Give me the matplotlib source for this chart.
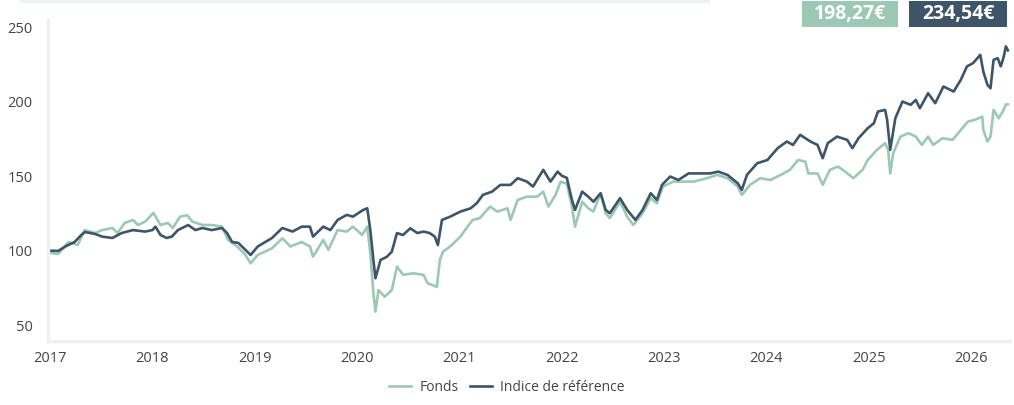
import matplotlib
matplotlib.use("Agg")
import matplotlib.pyplot as plt
from matplotlib.patches import Rectangle

plt.rcParams['font.family'] = ['Open Sans', 'DejaVu Sans']

# Indice de référence (decimal year, value)
indice_t = [2017.00, 2017.08, 2017.15, 2017.24, 2017.31, 2017.34, 2017.44, 2017.51, 2017.61, 2017.70,
            2017.81, 2017.93, 2018.00, 2018.03, 2018.08, 2018.14, 2018.19, 2018.25, 2018.35, 2018.42,
            2018.49, 2018.58, 2018.68, 2018.73, 2018.78, 2018.84, 2018.91, 2018.96, 2019.03, 2019.17,
            2019.27, 2019.37, 2019.46, 2019.54, 2019.57, 2019.67, 2019.74, 2019.81, 2019.90, 2019.96,
            2020.06, 2020.10, 2020.13, 2020.16, 2020.18, 2020.23, 2020.29, 2020.34, 2020.39, 2020.45,
            2020.52, 2020.59, 2020.65, 2020.71, 2020.76, 2020.79, 2020.83, 2020.91, 2021.01, 2021.11,
            2021.17, 2021.23, 2021.32, 2021.40, 2021.50, 2021.57, 2021.66, 2021.72, 2021.82, 2021.89,
            2021.96, 2022.00, 2022.05, 2022.10, 2022.13, 2022.20, 2022.26, 2022.31, 2022.38, 2022.43,
            2022.47, 2022.57, 2022.64, 2022.72, 2022.79, 2022.87, 2022.93, 2022.98, 2023.06, 2023.14,
            2023.24, 2023.35, 2023.45, 2023.53, 2023.62, 2023.72, 2023.76, 2023.81, 2023.91, 2024.01,
            2024.11, 2024.20, 2024.26, 2024.33, 2024.43, 2024.50, 2024.55, 2024.60, 2024.69, 2024.79,
            2024.84, 2024.90, 2024.99, 2025.05, 2025.09, 2025.16, 2025.18, 2025.21, 2025.26, 2025.33,
            2025.41, 2025.46, 2025.50, 2025.58, 2025.65, 2025.73, 2025.83, 2025.90, 2025.96, 2026.02,
            2026.09, 2026.12, 2026.16, 2026.19, 2026.22, 2026.26, 2026.29, 2026.32, 2026.34, 2026.36]
indice_v = [100.2, 100.0, 103.0, 106.0, 111.0, 112.7, 111.4, 109.6, 108.7, 112.0,
            114.0, 113.0, 114.0, 116.3, 110.7, 108.7, 109.6, 114.0, 117.4, 114.0,
            115.4, 114.0, 115.4, 112.0, 106.0, 105.4, 100.7, 97.3, 103.0, 108.7,
            115.4, 113.0, 116.3, 116.3, 109.6, 116.3, 114.0, 120.8, 124.2, 123.0,
            127.5, 128.6, 114.0, 94.0, 81.7, 94.0, 96.0, 99.5, 112.0, 110.7,
            115.2, 112.0, 113.0, 112.0, 109.6, 104.0, 120.8, 123.0, 126.4, 128.6,
            132.0, 137.6, 139.8, 144.3, 144.3, 148.8, 146.5, 143.2, 154.4, 146.5,
            153.2, 150.5, 149.0, 134.2, 127.5, 139.8, 136.4, 133.0, 138.7, 127.5,
            125.3, 135.4, 127.5, 120.8, 127.5, 138.7, 134.2, 144.3, 149.9, 147.6,
            152.0, 152.0, 152.0, 153.2, 151.0, 145.4, 140.9, 151.0, 158.8, 161.0,
            168.9, 173.4, 171.1, 177.9, 173.4, 171.1, 162.2, 172.3, 176.7, 174.5,
            168.9, 175.6, 182.3, 185.6, 193.5, 194.6, 187.9, 167.8, 189.0, 200.2,
            198.0, 201.3, 195.7, 205.8, 199.1, 210.3, 206.9, 214.8, 223.8, 226.0,
            231.5, 220.3, 211.4, 209.1, 228.2, 229.3, 223.8, 230.4, 237.2, 234.54]

# Fonds (decimal year, value)
fonds_t = [2017.00, 2017.08, 2017.18, 2017.27, 2017.34, 2017.44, 2017.51, 2017.61, 2017.66, 2017.73,
           2017.81, 2017.86, 2017.93, 2018.01, 2018.08, 2018.15, 2018.20, 2018.27, 2018.34, 2018.39,
           2018.49, 2018.58, 2018.68, 2018.74, 2018.83, 2018.91, 2018.96, 2019.03, 2019.17, 2019.27,
           2019.35, 2019.46, 2019.54, 2019.57, 2019.67, 2019.72, 2019.81, 2019.90, 2019.96, 2020.05,
           2020.10, 2020.13, 2020.16, 2020.18, 2020.21, 2020.27, 2020.34, 2020.39, 2020.45, 2020.55,
           2020.65, 2020.69, 2020.78, 2020.81, 2020.84, 2020.91, 2021.01, 2021.08, 2021.13, 2021.20,
           2021.30, 2021.37, 2021.47, 2021.50, 2021.57, 2021.66, 2021.76, 2021.82, 2021.87, 2021.94,
           2021.99, 2022.05, 2022.10, 2022.13, 2022.20, 2022.26, 2022.31, 2022.38, 2022.43, 2022.47,
           2022.57, 2022.64, 2022.70, 2022.79, 2022.87, 2022.93, 2022.99, 2023.09, 2023.19, 2023.29,
           2023.42, 2023.52, 2023.62, 2023.72, 2023.76, 2023.84, 2023.94, 2024.04, 2024.14, 2024.23,
           2024.31, 2024.38, 2024.41, 2024.50, 2024.55, 2024.62, 2024.70, 2024.77, 2024.85, 2024.94,
           2024.99, 2025.08, 2025.16, 2025.19, 2025.21, 2025.24, 2025.31, 2025.39, 2025.46, 2025.52,
           2025.58, 2025.63, 2025.72, 2025.82, 2025.90, 2025.97, 2026.04, 2026.11, 2026.12, 2026.16,
           2026.19, 2026.22, 2026.27, 2026.31, 2026.34, 2026.36]
fonds_v = [98.7, 98.0, 106.0, 104.0, 114.0, 112.0, 114.0, 115.4, 112.0, 118.8,
           120.8, 117.4, 119.7, 125.5, 117.4, 118.8, 115.4, 123.0, 124.0, 119.7,
           117.4, 117.4, 116.3, 107.4, 103.0, 97.3, 91.7, 97.3, 101.8, 108.5,
           103.0, 106.0, 103.0, 96.2, 107.4, 100.7, 114.0, 113.0, 116.3, 110.7,
           116.3, 98.4, 71.6, 59.3, 73.8, 69.3, 73.8, 89.5, 84.0, 85.0,
           84.0, 78.3, 76.0, 94.0, 99.5, 103.0, 109.6, 116.3, 120.8, 122.0,
           129.8, 126.4, 128.6, 120.8, 134.2, 136.4, 136.4, 139.8, 129.8, 137.6,
           146.5, 145.0, 129.8, 116.3, 133.0, 128.6, 126.4, 138.7, 125.3, 122.0,
           133.0, 123.0, 117.4, 125.3, 135.4, 132.0, 143.2, 146.5, 146.5, 146.5,
           148.8, 151.0, 148.8, 143.2, 137.6, 144.3, 148.8, 147.6, 151.0, 154.4,
           161.0, 159.9, 152.0, 152.0, 144.3, 154.4, 156.6, 153.2, 148.8, 154.4,
           161.0, 167.8, 172.3, 167.8, 152.0, 165.6, 176.7, 179.0, 176.7, 171.1,
           176.7, 171.1, 175.6, 174.5, 181.2, 186.8, 188.0, 190.1, 181.2, 173.4,
           176.7, 194.6, 189.0, 193.5, 198.3, 198.27]

years = list(range(2017, 2027))
yticks = [50, 100, 150, 200, 250]
green = '#9dc8b5'
dark = '#3e5569'

fig = plt.figure(figsize=(10.14, 4.05), dpi=100)
ax = fig.add_axes([0.0473, 0.158, 0.9487, 0.793])

ax.plot(fonds_t, fonds_v, color=green, lw=1.9, label='Fonds')
ax.plot(indice_t, indice_v, color=dark, lw=1.9, label='Indice de référence')

ax.set_xlim(2016.98, 2026.38)
ax.set_ylim(39.6, 255)
ax.set_xticks(years)
ax.set_xticklabels([str(y) for y in years])
ax.set_yticks(yticks)

for s in ['top', 'right']:
    ax.spines[s].set_visible(False)
for s in ['left', 'bottom']:
    ax.spines[s].set_color('#f0f0f0')
    ax.spines[s].set_linewidth(2.5)
ax.tick_params(axis='both', length=0, labelsize=10.5, labelcolor='#444444')
ax.tick_params(axis='y', pad=11)
ax.tick_params(axis='x', pad=7)

leg = fig.legend(loc='lower center', bbox_to_anchor=(0.5, -0.005), ncol=2, frameon=False,
                 fontsize=10, handlelength=1.6, columnspacing=0.8, handletextpad=0.6)
for t in leg.get_texts():
    t.set_color('#444444')

# light band on top
fig.add_artist(Rectangle((20 / 1014, 1 - 3 / 405), 690 / 1014, 3 / 405,
                         transform=fig.transFigure, color='#eef2f1', lw=0))

# final value badges
fig.add_artist(Rectangle((802 / 1014, 1 - 27 / 405), 96 / 1014, 26 / 405,
                         transform=fig.transFigure, color=green, lw=0))
fig.text(850 / 1014, 1 - 14.5 / 405, '198,27€', color='white', fontsize=14,
         fontweight='bold', ha='center', va='center')
fig.add_artist(Rectangle((909 / 1014, 1 - 27 / 405), 98 / 1014, 26 / 405,
                         transform=fig.transFigure, color=dark, lw=0))
fig.text(958 / 1014, 1 - 14.5 / 405, '234,54€', color='white', fontsize=14,
         fontweight='bold', ha='center', va='center')

fig.savefig('out.png', dpi=100)
